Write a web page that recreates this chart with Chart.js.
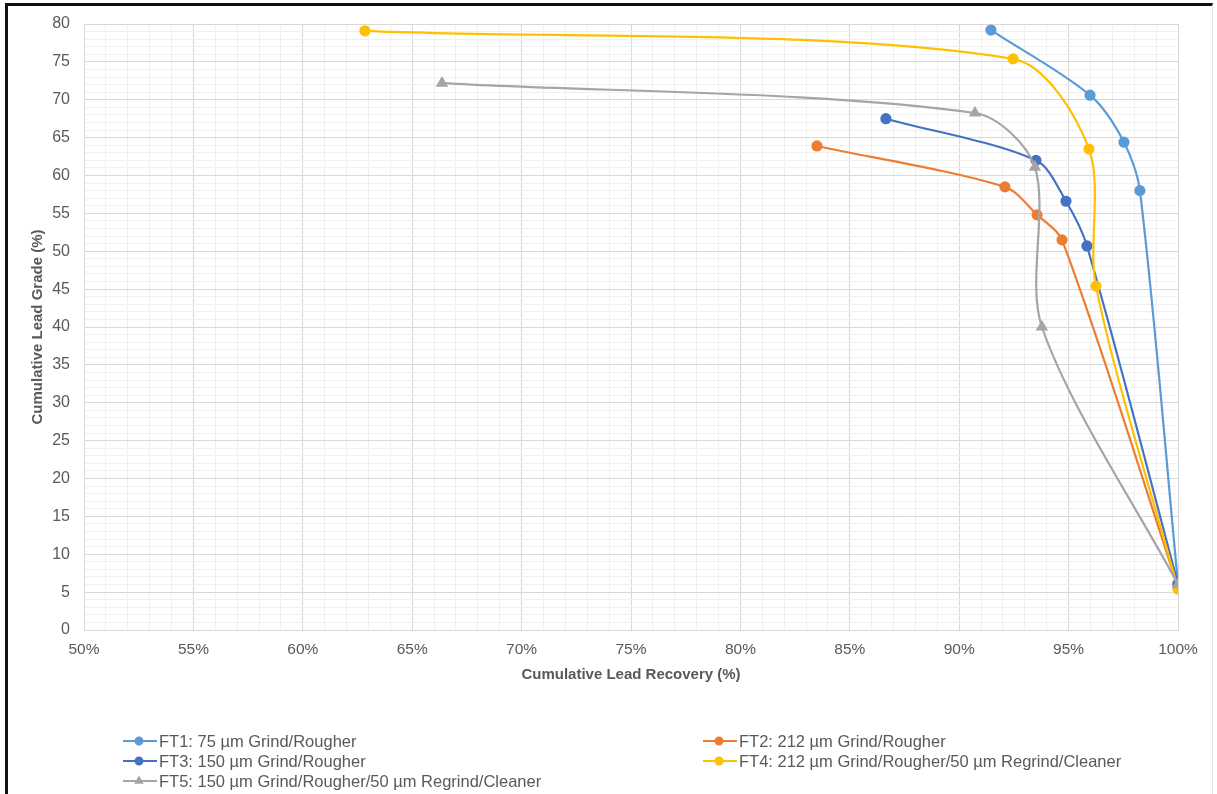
<!DOCTYPE html>
<html>
<head>
<meta charset="utf-8">
<script src="https://cdn.jsdelivr.net/npm/chart.js@4/dist/chart.umd.min.js"></script>
<style>
  html, body { margin: 0; padding: 0; background: #fff; }
  #wrap { position: relative; width: 1217px; height: 794px; overflow: hidden; }
  #myChart { position: absolute; left: 0; top: 0; }
  #frame {
    position: absolute; left: 5px; top: 3px; width: 1204px; height: 820px;
    border-left: 3px solid #111; border-top: 3px solid #111; border-right: 1px solid #e3e3e3;
    pointer-events: none;
  }
</style>
</head>
<body>
<div id="wrap">
  <canvas id="myChart" width="1217" height="794"></canvas>
  <div id="frame"></div>
</div>
<script>
// recovery (%) on x, grade (%) on y
const ft1Recovery = [91.45, 95.98, 97.53, 98.26, 100];
const ft1Grade    = [79.2, 70.6, 64.4, 58.0, 6.1];

const ft2Recovery = [83.5, 92.09, 93.56, 94.70, 100];
const ft2Grade    = [63.9, 58.5, 54.8, 51.5, 5.7];

const ft3Recovery = [86.65, 93.51, 94.88, 95.84, 100];
const ft3Grade    = [67.5, 62.0, 56.6, 50.7, 6.1];

const ft4Recovery = [62.84, 92.46, 95.93, 96.25, 100];
const ft4Grade    = [79.1, 75.4, 63.5, 45.4, 5.4];

const ft5Recovery = [66.36, 90.72, 93.46, 93.78, 100];
const ft5Grade    = [72.2, 68.25, 61.1, 40.0, 6.0];

const seriesNames = [
  'FT1: 75 µm Grind/Rougher',
  'FT2: 212 µm Grind/Rougher',
  'FT3: 150 µm Grind/Rougher',
  'FT4: 212 µm Grind/Rougher/50 µm Regrind/Cleaner',
  'FT5: 150 µm Grind/Rougher/50 µm Regrind/Cleaner',
];
const seriesColors = ['#5B9BD5', '#ED7D31', '#4472C4', '#FFC000', '#A5A5A5'];

const xMin = 50, xMax = 100;
const yMin = 0, yMax = 80;

const FONT = '"Liberation Sans", Arial, sans-serif';
const TEXT = '#595959';

function pts(xs, ys) {
  return xs.map((x, i) => ({x: x, y: ys[i]}));
}

function makeSet(i, xs, ys, style) {
  return {
    label: seriesNames[i],
    data: pts(xs, ys),
    borderColor: seriesColors[i],
    backgroundColor: seriesColors[i],
    pointBackgroundColor: seriesColors[i],
    pointBorderColor: seriesColors[i],
    pointStyle: style,
    pointRadius: style === 'triangle' ? 5 : 4.5,
    borderWidth: 2.2,
    showLine: true,
    tension: 0.3,
    order: 5 - i,
  };
}

// two-column legend below the plot, like the Excel one
const legendPlugin = {
  id: 'colLegend',
  afterDraw(chart) {
    const ctx = chart.ctx;
    ctx.save();
    ctx.font = '16.5px ' + FONT;
    ctx.textBaseline = 'middle';
    chart.data.datasets.forEach((ds, i) => {
      const col = i % 2;
      const row = Math.floor(i / 2);
      const x = col ? 703 : 123;
      const y = 741 + row * 20;
      ctx.strokeStyle = ds.borderColor;
      ctx.lineWidth = 2;
      ctx.beginPath();
      ctx.moveTo(x, y);
      ctx.lineTo(x + 34, y);
      ctx.stroke();
      ctx.fillStyle = ds.backgroundColor;
      Chart.helpers.drawPoint(ctx, {pointStyle: ds.pointStyle, radius: 3.5, rotation: 0, borderWidth: 1}, x + 16, y);
      ctx.fillStyle = TEXT;
      ctx.fillText(ds.label, x + 36, y + 1);
    });
    ctx.restore();
  }
};

const data = {
  datasets: [
    makeSet(0, ft1Recovery, ft1Grade, 'circle'),
    makeSet(1, ft2Recovery, ft2Grade, 'circle'),
    makeSet(2, ft3Recovery, ft3Grade, 'circle'),
    makeSet(3, ft4Recovery, ft4Grade, 'circle'),
    makeSet(4, ft5Recovery, ft5Grade, 'triangle'),
  ]
};

const gridColor = (ctx) => (ctx.tick && ctx.tick.value % 5 === 0) ? '#d9d9d9' : '#f0f0f0';

const config = {
  type: 'scatter',
  data: data,
  options: {
    responsive: false,
    animation: false,
    layout: { padding: { left: 0, right: 39, top: 24, bottom: 100 } },
    plugins: {
      legend: { display: false },
      tooltip: { enabled: false },
    },
    scales: {
      x: {
        type: 'linear',
        min: xMin,
        max: xMax,
        afterFit(scale) { scale.height = 64; },
        ticks: {
          stepSize: 1,
          autoSkip: false,
          maxRotation: 0,
          minRotation: 0,
          padding: 10,
          color: TEXT,
          font: { family: FONT, size: 15.5 },
          callback: (v) => v % 5 === 0 ? v + '%' : '',
        },
        grid: { color: gridColor, drawTicks: false, lineWidth: 1 },
        border: { color: '#d9d9d9' },
        title: {
          display: true,
          text: 'Cumulative Lead Recovery (%)',
          color: TEXT,
          font: { family: FONT, size: 15, weight: 'bold' },
          padding: { top: 0, bottom: 10 },
        },
      },
      y: {
        type: 'linear',
        min: yMin,
        max: yMax,
        afterFit(scale) { scale.width = 84; },
        ticks: {
          stepSize: 1,
          autoSkip: false,
          padding: 14,
          color: TEXT,
          font: { family: FONT, size: 16 },
          callback: (v) => v % 5 === 0 ? v : '',
        },
        grid: { color: gridColor, drawTicks: false, lineWidth: 1 },
        border: { color: '#d9d9d9' },
        title: {
          display: true,
          text: 'Cumulative Lead Grade (%)',
          color: TEXT,
          font: { family: FONT, size: 15, weight: 'bold' },
          padding: { top: 29, bottom: 0 },
        },
      },
    },
  },
  plugins: [legendPlugin],
};

const myChart = new Chart(document.getElementById('myChart'), config);
</script>
</body>
</html>
